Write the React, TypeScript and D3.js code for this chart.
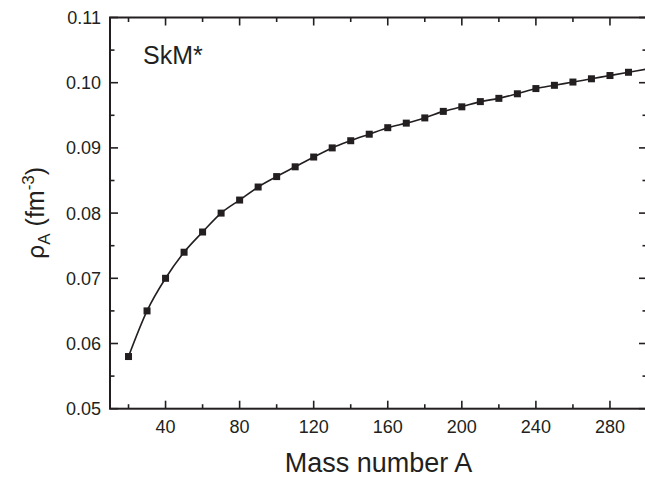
import React from "react";
import * as d3 from "d3";

// Mass number A of each marker
const massNumbers = [
  20, 30, 40, 50, 60, 70, 80, 90, 100, 110, 120, 130, 140, 150,
  160, 170, 180, 190, 200, 210, 220, 230, 240, 250, 260, 270, 280, 290,
];
// rho_A (fm^-3)
const rhoValues = [
  0.058, 0.065, 0.07, 0.074, 0.0771, 0.08, 0.082, 0.084, 0.0856, 0.0871,
  0.0886, 0.09, 0.0911, 0.0921, 0.0931, 0.0938, 0.0946, 0.0956, 0.0963,
  0.0971, 0.0976, 0.0983, 0.0991, 0.0996, 0.1001, 0.1006, 0.1011, 0.1016,
];
// the curve runs on past the last marker to the frame
const curveEndA = 300;
const curveEndRho = 0.1021;

const xMajorTicks = [40, 80, 120, 160, 200, 240, 280];
const xMinorTicks = [20, 60, 100, 140, 180, 220, 260, 300];
const yMajorTicks = [0.05, 0.06, 0.07, 0.08, 0.09, 0.1, 0.11];
const yMinorTicks = [0.055, 0.065, 0.075, 0.085, 0.095, 0.105];

const modelLabel = "SkM*";
const xTitle = "Mass number A";

const W = 645;
const H = 479;
const left = 110;
const right = 647;
const top = 17.5;
const bottom = 408.7;
const font = "Arial, 'Liberation Sans', Helvetica, sans-serif";
const ink = "#231f20";

export default function App() {
  const x = d3.scaleLinear().domain([10, 300]).range([left, right]);
  const y = d3.scaleLinear().domain([0.05, 0.11]).range([bottom, top]);

  const points = massNumbers.map((a, i) => ({ a, rho: rhoValues[i] }));
  const curve = [...points, { a: curveEndA, rho: curveEndRho }];

  const line = d3
    .line<{ a: number; rho: number }>()
    .x((d) => x(d.a))
    .y((d) => y(d.rho))
    .curve(d3.curveMonotoneX);

  const major = 8;
  const minor = 4.5;
  const sq = 7;

  return (
    <svg
      width={W}
      height={H}
      style={{ position: "absolute", left: 0, top: 0, background: "#fff" }}
      fontFamily={font}
    >
      {/* curve */}
      <path d={line(curve) ?? ""} fill="none" stroke={ink} strokeWidth={1.6} />

      {/* markers */}
      {points.map((d, i) => (
        <rect
          key={i}
          x={x(d.a) - sq / 2}
          y={y(d.rho) - sq / 2}
          width={sq}
          height={sq}
          fill={ink}
        />
      ))}

      {/* ticks, pointing inward on all four sides */}
      <g stroke={ink} strokeWidth={1.6}>
        {xMajorTicks.map((t) => (
          <g key={`xM${t}`}>
            <line x1={x(t)} x2={x(t)} y1={bottom} y2={bottom - major} />
            <line x1={x(t)} x2={x(t)} y1={top} y2={top + major} />
          </g>
        ))}
        {xMinorTicks.map((t) => (
          <g key={`xm${t}`}>
            <line x1={x(t)} x2={x(t)} y1={bottom} y2={bottom - minor} />
            <line x1={x(t)} x2={x(t)} y1={top} y2={top + minor} />
          </g>
        ))}
        {yMajorTicks.map((t) => (
          <g key={`yM${t}`}>
            <line x1={left} x2={left + major} y1={y(t)} y2={y(t)} />
            <line x1={right} x2={right - major} y1={y(t)} y2={y(t)} />
          </g>
        ))}
        {yMinorTicks.map((t) => (
          <g key={`ym${t}`}>
            <line x1={left} x2={left + minor} y1={y(t)} y2={y(t)} />
            <line x1={right} x2={right - minor} y1={y(t)} y2={y(t)} />
          </g>
        ))}
      </g>

      {/* frame */}
      <rect
        x={left}
        y={top}
        width={right - left}
        height={bottom - top}
        fill="none"
        stroke={ink}
        strokeWidth={2}
      />

      {/* tick labels */}
      <g fill={ink} fontSize={18}>
        {xMajorTicks.map((t) => (
          <text key={`xl${t}`} x={x(t)} y={433} textAnchor="middle">
            {t}
          </text>
        ))}
        {yMajorTicks.map((t) => (
          <text
            key={`yl${t}`}
            x={101}
            y={y(t)}
            dy="0.36em"
            textAnchor="end"
          >
            {d3.format(".2f")(t)}
          </text>
        ))}
      </g>

      {/* axis titles */}
      <text
        x={(left + right) / 2}
        y={472}
        textAnchor="middle"
        fontSize={27}
        fill={ink}
      >
        {xTitle}
      </text>
      <text
        transform={`translate(44, ${(top + bottom) / 2}) rotate(-90)`}
        textAnchor="middle"
        fontSize={25}
        fill={ink}
      >
        <tspan fontFamily="'DejaVu Sans', sans-serif" fontSize={23}>ρ</tspan>
        <tspan fontSize={17} dy={6}>A</tspan>
        <tspan dy={-6}> (fm</tspan>
        <tspan fontSize={17} dy={-10}>-3</tspan>
        <tspan dy={10}>)</tspan>
      </text>

      {/* model label */}
      <text x={143} y={64} fontSize={25} fill={ink}>
        {modelLabel}
      </text>
    </svg>
  );
}
